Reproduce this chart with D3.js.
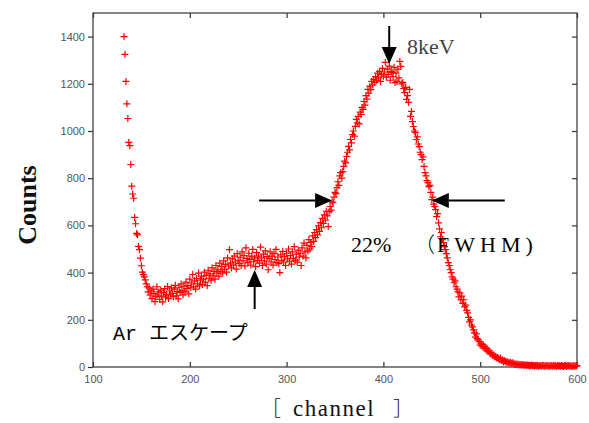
<!DOCTYPE html>
<html>
<head>
<meta charset="utf-8">
<script src="https://cdn.jsdelivr.net/npm/d3@7"></script>
<style>
  body { margin: 0; background: #fff; }
  svg text { font-family: "Liberation Sans", Arial, sans-serif; }
</style>
</head>
<body>
<div id="chart"></div>
<script>
// spectrum: counts per channel, starting at channel 132
var firstChannel = 132;
var counts = [
  1400, 1325, 1210, 1115, 1053, 952, 938, 858, 766, 733,
  715, 634, 607, 566, 560, 511, 497, 461, 429, 402,
  391, 382, 369, 352, 340, 318, 335, 305, 322, 290,
  330, 312, 277, 298, 340, 305, 318, 286, 326, 300,
  276, 315, 332, 296, 308, 341, 290, 322, 305, 335,
  312, 298, 330, 346, 302, 320, 289, 338, 316, 352,
  325, 306, 343, 318, 360, 332, 345, 310, 372, 338,
  356, 392, 340, 365, 330, 375, 352, 398, 344, 368,
  385, 350, 372, 402, 360, 388, 345, 410, 376, 395,
  368, 420, 386, 405, 372, 430, 398, 412, 385, 440,
  405, 425, 398, 450, 415, 435, 402, 462, 428, 497,
  440, 420, 458, 432, 470, 445, 415, 480, 452, 438,
  465, 430, 488, 450, 472, 428, 505, 460, 442, 482,
  455, 432, 470, 498, 446, 462, 425, 485, 452, 470,
  440, 508, 462, 430, 478, 450, 492, 436, 468, 412,
  460, 488, 445, 470, 432, 480, 455, 498, 442, 466,
  438, 400, 475, 452, 490, 445, 468, 430, 482, 458,
  500, 448, 472, 436, 488, 460, 510, 452, 478, 444,
  495, 466, 482, 430, 505, 470, 525, 488, 462, 515,
  492, 540, 500, 528, 510, 556, 532, 570, 548, 582,
  560, 598, 575, 612, 590, 630, 608, 645, 622, 660,
  640, 595, 658, 680, 665, 700, 696, 720, 740, 735,
  760, 785, 770, 810, 824, 800, 828, 850, 872, 865,
  892, 910, 935, 920, 964, 950, 985, 1000, 978, 1020,
  1049, 1035, 1062, 1030, 1080, 1070, 1100, 1092, 1125, 1110,
  1150, 1135, 1176, 1160, 1190, 1175, 1210, 1195, 1219, 1206,
  1230, 1215, 1245, 1225, 1253, 1210, 1240, 1265, 1232, 1250,
  1291, 1228, 1262, 1240, 1275, 1215, 1253, 1248, 1230, 1270,
  1205, 1245, 1210, 1262, 1225, 1295, 1274, 1200, 1206, 1180,
  1163, 1185, 1134, 1150, 1121, 1176, 1062, 1083, 1040, 1019,
  1000, 994, 964, 975, 945, 934, 910, 900, 879, 890,
  850, 824, 810, 790, 781, 764, 770, 740, 709, 720,
  690, 680, 667, 637, 650, 611, 585, 552, 570, 540,
  527, 510, 497, 480, 462, 442, 430, 412, 400, 382,
  372, 357, 365, 340, 330, 318, 297, 314, 285, 300,
  270, 285, 255, 262, 240, 229, 210, 191, 200, 178,
  170, 157, 145, 127, 140, 120, 115, 108, 93, 100,
  88, 95, 80, 85, 72, 78, 66, 70, 60, 55,
  59, 48, 52, 42, 45, 38, 40, 35, 32, 38,
  28, 30, 21, 26, 24, 20, 22, 18, 17, 20,
  15, 18, 17, 12, 14, 11, 13, 10, 12, 9,
  10, 8, 11, 7, 9, 8, 6, 8, 7, 5,
  6, 8, 5, 7, 4, 6, 5, 7, 3, 5,
  6, 4, 5, 7, 3, 5, 4, 6, 5, 3,
  4, 6, 5, 3, 7, 4, 5, 2, 6, 4,
  5, 3, 6, 4, 2, 5, 7, 3, 4, 6,
  3, 5, 4, 2, 6, 3, 5, 4, 6
];

var xTicks = [100, 200, 300, 400, 500, 600];
var yTicks = [0, 200, 400, 600, 800, 1000, 1200, 1400];

// annotation anchors in data units
var peakChannel = 406;
var fwhmLeft = 347, fwhmRight = 450, fwhmLevel = 705;
var escapeChannel = 267;

var width = 589, height = 423;
var margin = {left: 93, right: 12, top: 13, bottom: 56};

var svg = d3.select("#chart").append("svg")
    .attr("width", width).attr("height", height);

var x = d3.scaleLinear().domain([100, 600]).range([margin.left, width - margin.right]);
var y = d3.scaleLinear().domain([0, 1500]).range([height - margin.bottom, margin.top]);

var x0 = x.range()[0], x1 = x.range()[1], y0 = y.range()[0], y1 = y.range()[1];

// frame
svg.append("rect")
    .attr("x", x0).attr("y", y1)
    .attr("width", x1 - x0).attr("height", y0 - y1)
    .attr("fill", "none").attr("stroke", "#333").attr("stroke-width", 1.2);

var axisColor = "#555";
var fmt = d3.format("d");

var gx = svg.append("g").attr("transform", "translate(0," + y0 + ")")
    .call(d3.axisBottom(x).tickValues(xTicks).tickFormat(fmt).tickSizeInner(-5).tickSizeOuter(0).tickPadding(8));
var gxTop = svg.append("g").attr("transform", "translate(0," + y1 + ")")
    .call(d3.axisTop(x).tickValues(xTicks).tickSizeInner(-5).tickSizeOuter(0).tickFormat(""));
var gy = svg.append("g").attr("transform", "translate(" + x0 + ",0)")
    .call(d3.axisLeft(y).tickValues(yTicks).tickFormat(fmt).tickSizeInner(5).tickSizeOuter(0).tickPadding(3));
var gyRight = svg.append("g").attr("transform", "translate(" + x1 + ",0)")
    .call(d3.axisRight(y).tickValues(yTicks).tickSizeInner(-5).tickSizeOuter(0).tickFormat(""));

[gx, gxTop, gy, gyRight].forEach(function (g) {
    g.select(".domain").remove();
    g.selectAll(".tick line").attr("stroke", "#333").attr("stroke-width", 1.2);
    g.selectAll(".tick text").attr("fill", axisColor)
        .style("font-size", "11px");
});

// data points as red plus marks
var plus = "M-3.5,0H3.5M0,-3.5V3.5";
svg.append("g").selectAll("path")
    .data(counts)
    .enter().append("path")
    .attr("d", plus)
    .attr("transform", function (d, i) {
        return "translate(" + x(firstChannel + i) + "," + y(d) + ")";
    })
    .attr("stroke", "#ff0000")
    .attr("stroke-width", 1.2)
    .attr("fill", "none");

var serif = "'Liberation Serif', 'DejaVu Serif', serif";
var cjk = "'Noto Sans CJK JP', sans-serif";

// axis titles
svg.append("text")
    .attr("transform", "translate(36,205) rotate(-90)")
    .attr("text-anchor", "middle")
    .style("font-family", serif)
    .style("font-weight", "bold")
    .style("font-size", "26px")
    .attr("fill", "#111")
    .text("Counts");

svg.append("text")
    .attr("x", 261).attr("y", 416)
    .style("font-family", cjk).style("font-weight", "300")
    .style("font-size", "20px").attr("fill", "#111")
    .text("［");
svg.append("text")
    .attr("x", 293).attr("y", 416)
    .style("font-family", serif).style("font-size", "23px")
    .style("letter-spacing", "1.5px").attr("fill", "#111")
    .text("channel");
svg.append("text")
    .attr("x", 393).attr("y", 416)
    .style("font-family", cjk).style("font-weight", "300")
    .style("font-size", "20px").attr("fill", "#111")
    .text("］");

// arrows
function arrow(xa, ya, xb, yb) {
    var ang = Math.atan2(yb - ya, xb - xa);
    var len = 17, half = 7.5;
    var bx = xb - len * Math.cos(ang), by = yb - len * Math.sin(ang);
    svg.append("line")
        .attr("x1", xa).attr("y1", ya).attr("x2", bx).attr("y2", by)
        .attr("stroke", "#000").attr("stroke-width", 2);
    var px = -Math.sin(ang) * half, py = Math.cos(ang) * half;
    svg.append("path")
        .attr("d", "M" + xb + "," + yb + "L" + (bx + px) + "," + (by + py) + "L" + (bx - px) + "," + (by - py) + "Z")
        .attr("fill", "#000");
}

var fy = y(fwhmLevel);
arrow(x(fwhmLeft) - 73, fy, x(fwhmLeft), fy);
arrow(x(fwhmRight) + 73, fy, x(fwhmRight), fy);
arrow(x(peakChannel), 26, x(peakChannel), 64);
arrow(x(escapeChannel), 309, x(escapeChannel), 270);

svg.append("text")
    .attr("x", 407).attr("y", 54)
    .style("font-family", serif).style("font-size", "22px")
    .attr("fill", "#444")
    .text("8keV");

svg.append("text")
    .attr("x", 351).attr("y", 252)
    .style("font-family", serif).style("font-size", "22px")
    .attr("fill", "#000")
    .text("22%");
svg.append("text")
    .attr("x", 414).attr("y", 252)
    .style("font-family", cjk).style("font-weight", "300")
    .style("font-size", "21px").attr("fill", "#000")
    .text("（");
svg.append("text")
    .attr("x", 437).attr("y", 252)
    .style("font-family", serif).style("font-size", "22px")
    .style("letter-spacing", "5px").attr("fill", "#000")
    .text("FWHM)");

svg.append("text")
    .attr("x", 113).attr("y", 340)
    .style("font-family", "'Liberation Mono', 'Noto Sans CJK JP', monospace")
    .style("font-size", "20px")
    .attr("fill", "#000")
    .text("Ar エスケープ");
</script>
</body>
</html>
